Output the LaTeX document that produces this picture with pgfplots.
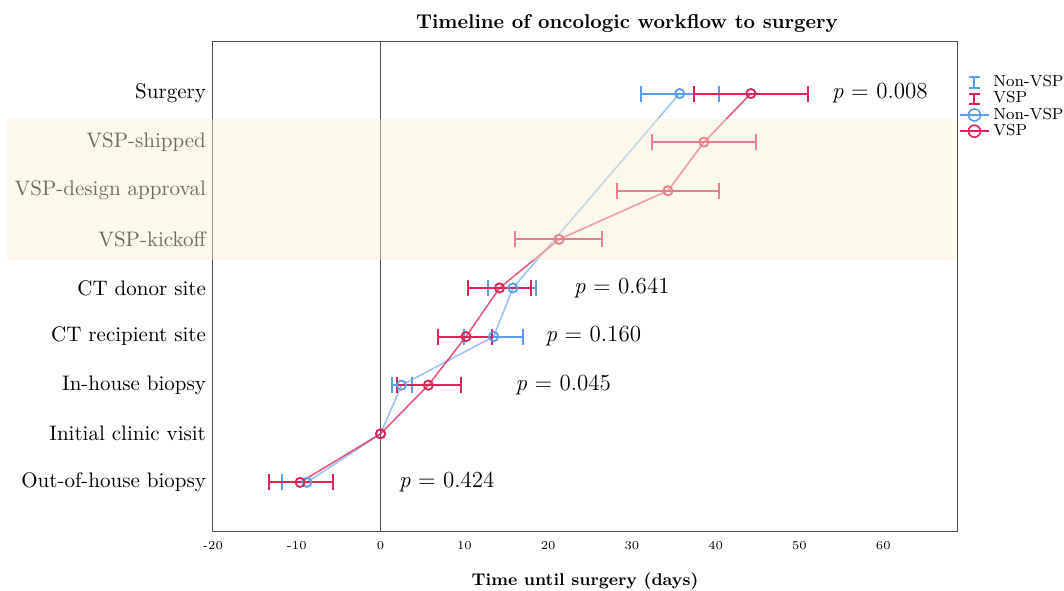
\documentclass[border=0pt]{standalone}
\usepackage{pgfplots}
\pgfplotsset{compat=1.18}
\usetikzlibrary{calc}
\definecolor{cblue}{RGB}{90,155,235}
\definecolor{cred}{RGB}{222,35,85}
\definecolor{cream}{RGB}{250,239,212}
\definecolor{axgray}{RGB}{80,80,80}
\pgfplotstableread{
x y ep em
-8.8 0 3.1 3.0
2.5 2 1.2 1.1
13.5 3 3.5 3.5
15.8 4 2.8 3.0
35.7 8 4.7 4.6
}\nonvsperr
\pgfplotstableread{
x y ep em
-9.6 0 3.9 3.7
5.7 2 3.9 3.7
10.2 3 3.1 3.3
14.2 4 3.8 3.8
21.3 5 5.1 5.3
34.3 6 6.1 6.1
38.6 7 6.2 6.2
44.2 8 6.8 6.8
}\vsperr
\begin{document}
\begin{tikzpicture}
\begin{axis}[
  scale only axis, width=372pt, height=244.5pt,
  xmin=-20, xmax=68.8, ymin=-1, ymax=9.06,
  xtick={-20,-10,...,60},
  ytick={0,...,8},
  yticklabels={Out-of-house biopsy, Initial clinic visit, In-house biopsy, CT recipient site, CT donor site, VSP-kickoff, VSP-design approval, VSP-shipped, Surgery},
  major tick length=0pt,
  x tick label style={font=\fontsize{6}{7}\selectfont, /pgf/number format/assume math mode=true, yshift=-1.5pt},
  y tick label style={font=\fontsize{10.5}{12}\selectfont},
  axis line style={draw=axgray, line width=0.5pt},
  title={\textbf{Timeline of oncologic workflow to surgery}},
  title style={xshift=21pt, yshift=-5pt, font=\fontsize{10}{12}\selectfont},
  xlabel={\textbf{Time until surgery (days)}},
  xlabel style={font=\fontsize{8.5}{10}\selectfont, yshift=-5pt},
  legend style={at={(axis description cs:1.0,0.945)}, anchor=north west, draw=none, fill=none, font=\fontsize{8}{8}\selectfont, row sep=-3pt, inner sep=1pt},
  legend cell align=left,
]
% legend images
\addlegendimage{cblue, line width=1pt, legend image code/.code={
  \draw (0.25cm,-0.09cm) -- (0.25cm,0.09cm);
  \draw (0.16cm,0.09cm) -- (0.34cm,0.09cm);
  \draw (0.16cm,-0.09cm) -- (0.34cm,-0.09cm);}}
\addlegendentry{Non-VSP}
\addlegendimage{cred, line width=1pt, legend image code/.code={
  \draw (0.25cm,-0.09cm) -- (0.25cm,0.09cm);
  \draw (0.16cm,0.09cm) -- (0.34cm,0.09cm);
  \draw (0.16cm,-0.09cm) -- (0.34cm,-0.09cm);}}
\addlegendentry{VSP}
\addlegendimage{cblue, line width=0.8pt, legend image code/.code={
  \draw (0cm,0cm) -- (0.5cm,0cm);
  \draw (0.25cm,0cm) circle (3pt);}}
\addlegendentry{Non-VSP}
\addlegendimage{cred, line width=0.8pt, legend image code/.code={
  \draw (0cm,0cm) -- (0.5cm,0cm);
  \draw (0.25cm,0cm) circle (3pt);}}
\addlegendentry{VSP}

% zero line
\addplot[axgray, line width=0.6pt, forget plot] coordinates {(0,-1) (0,9.06)};

% Non-VSP error bars
\addplot[cblue, draw=none, mark=none, forget plot, line width=1pt,
  error bars/.cd, x dir=both, x explicit, error mark=|,
  error bar style={draw=cblue, solid, line width=1pt},
  error mark options={draw=cblue, line width=1pt, mark size=4pt}]
  table[x=x, y=y, x error plus=ep, x error minus=em] {\nonvsperr};
% Non-VSP line
\addplot[cblue, line width=0.8pt, draw opacity=0.6, mark=o, mark size=2.3pt, mark options={draw opacity=1, line width=0.9pt}, forget plot]
  coordinates {(-8.8,0) (0,1) (2.5,2) (13.5,3) (15.8,4) (35.7,8)};

% VSP error bars
\addplot[cred, draw=none, mark=none, forget plot, line width=1pt,
  error bars/.cd, x dir=both, x explicit, error mark=|,
  error bar style={draw=cred, solid, line width=1pt},
  error mark options={draw=cred, line width=1pt, mark size=4pt}]
  table[x=x, y=y, x error plus=ep, x error minus=em] {\vsperr};
% VSP line
\addplot[cred, line width=0.8pt, draw opacity=0.75, mark=o, mark size=2.3pt, mark options={draw opacity=1, line width=0.9pt}, forget plot]
  coordinates {(-9.6,0) (0,1) (5.7,2) (10.2,3) (14.2,4) (21.3,5) (34.3,6) (38.6,7) (44.2,8)};

% p-values
\node[font=\fontsize{11.5}{13}\selectfont] at (axis cs:59.6,8) {\textit{p} = 0.008};
\node[font=\fontsize{11.5}{13}\selectfont] at (axis cs:28.8,4) {\textit{p} = 0.641};
\node[font=\fontsize{11.5}{13}\selectfont] at (axis cs:25.4,3) {\textit{p} = 0.160};
\node[font=\fontsize{11.5}{13}\selectfont] at (axis cs:21.8,2) {\textit{p} = 0.045};
\node[font=\fontsize{11.5}{13}\selectfont] at (axis cs:7.9,0) {\textit{p} = 0.424};

\coordinate (shA) at (axis cs:-44.6,4.58);
\coordinate (shB) at (axis cs:68.8,7.47);
\coordinate (axSW) at (rel axis cs:0,0);
\coordinate (axNE) at (rel axis cs:1,1);
\end{axis}
\fill[cream, opacity=0.45] (shA) rectangle (shB);
\pgfresetboundingbox
\path[use as bounding box] ($(axSW)+(-106.5pt,-29.5pt)$) rectangle ($(axNE)+(53.5pt,21pt)$);
\end{tikzpicture}
\end{document}
